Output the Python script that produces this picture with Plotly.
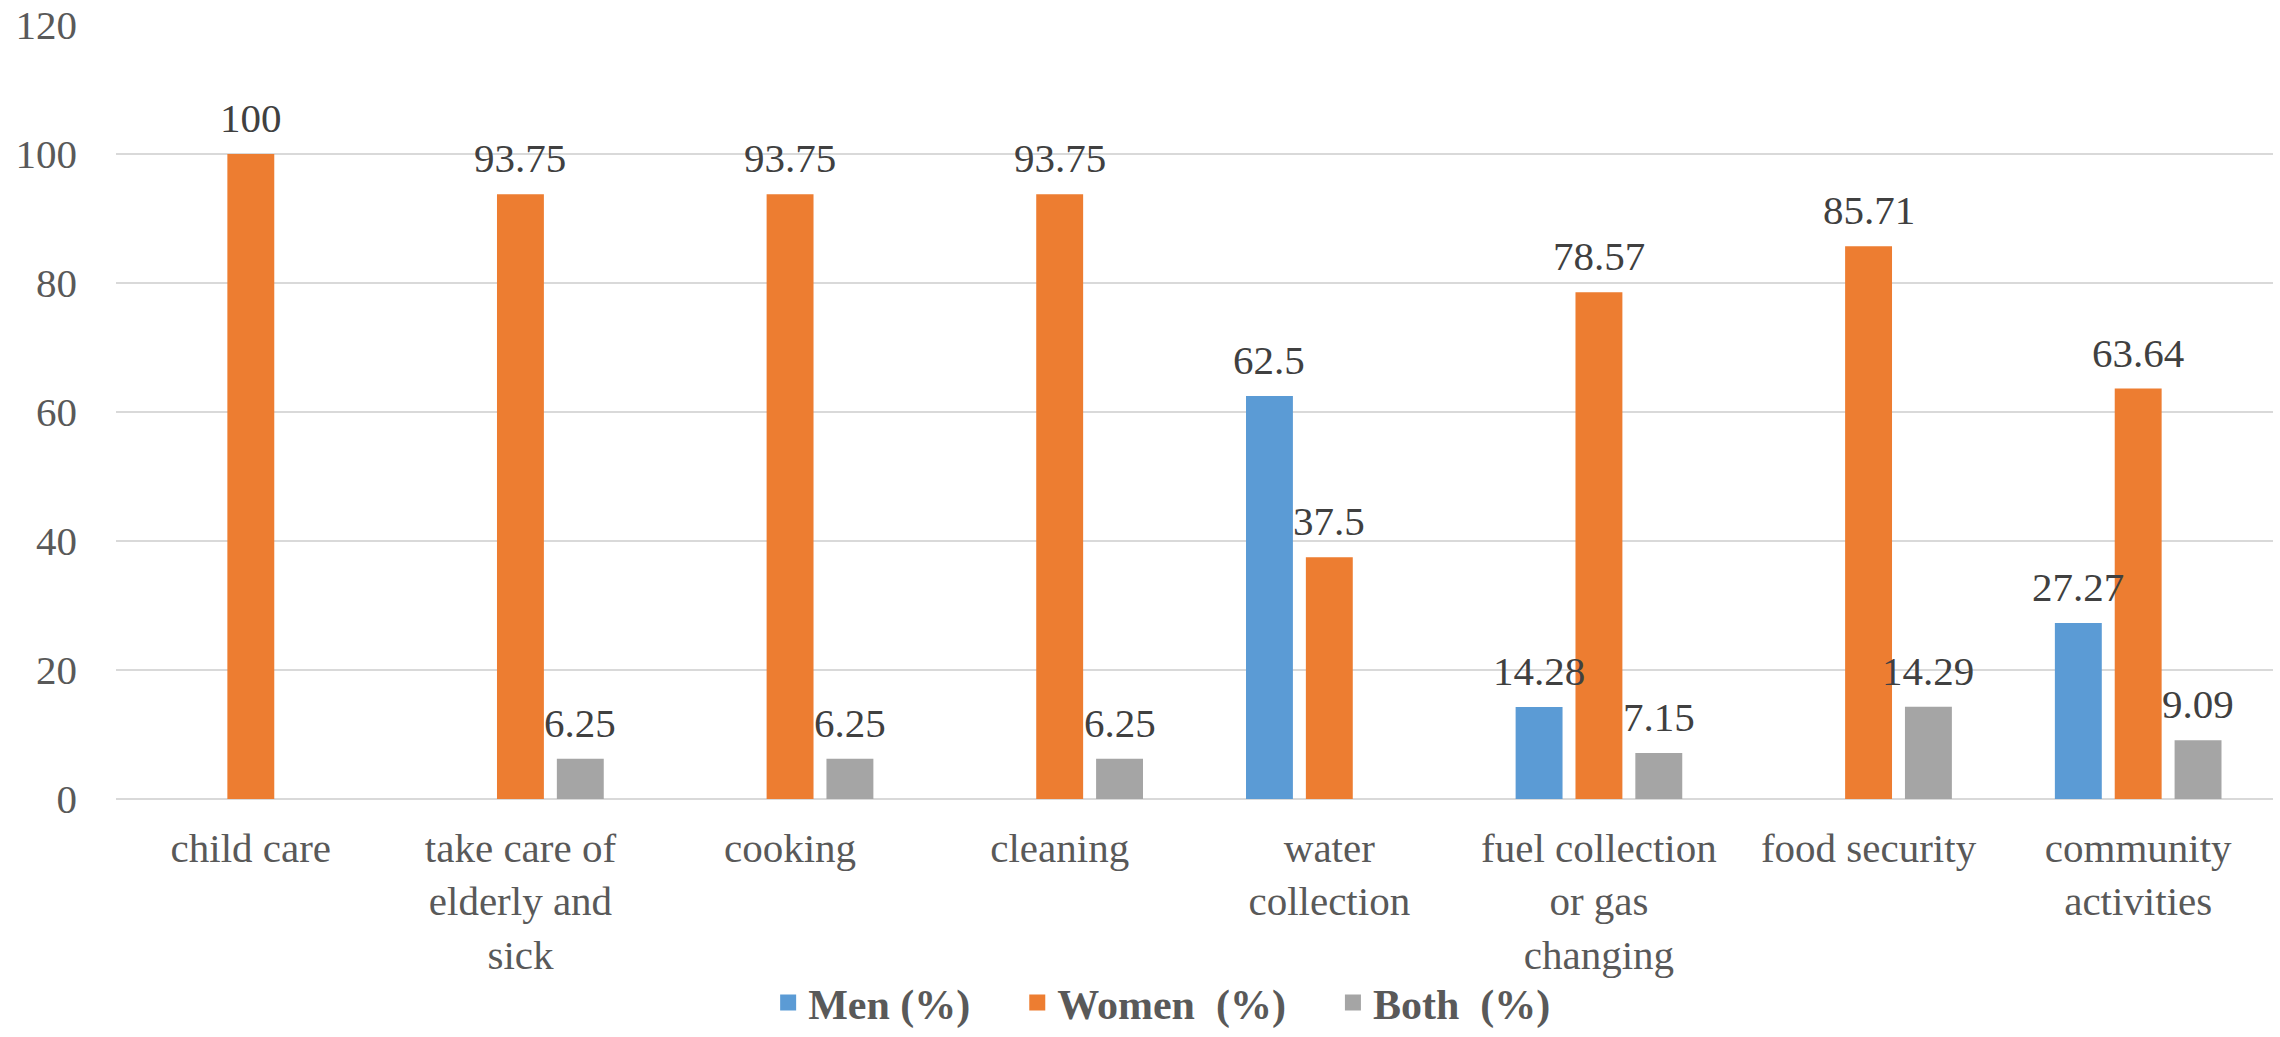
import plotly.graph_objects as go

categories = ["child care", "take care of<br>elderly and<br>sick", "cooking", "cleaning",
              "water<br>collection", "fuel collection<br>or gas<br>changing", "food security",
              "community<br>activities"]
men = [None, None, None, None, 62.5, 14.28, None, 27.27]
women = [100, 93.75, 93.75, 93.75, 37.5, 78.57, 85.71, 63.64]
both = [None, 6.25, 6.25, 6.25, None, 7.15, 14.29, 9.09]
series_names = ["Men (%)", "Women  (%)", "Both  (%)"]
colors = ["#5B9BD5", "#ED7D31", "#A5A5A5"]

FONT = "Liberation Serif"
BAR_W = 0.174
SLOT = 0.222
NBSP = "\u00a0"

def fmt(v):
    return "" if v is None else ("%g" % v)

idx = list(range(len(categories)))
fig = go.Figure()
annotations = []
for k, (name, vals, col) in enumerate(zip(series_names, [men, women, both], colors)):
    center = (k - 1) * SLOT
    fig.add_trace(go.Bar(
        x=idx, y=vals, name=name, marker_color=col, marker_line_width=0,
        width=BAR_W, offset=center - BAR_W / 2, showlegend=False,
    ))
    for i, v in zip(idx, vals):
        if v is None:
            continue
        annotations.append(dict(
            x=i + center, y=v, xref="x", yref="y", text=fmt(v), showarrow=False,
            yanchor="bottom", yshift=11,
            font=dict(family=FONT, size=41, color="#404040"),
        ))
    legend_name = name.replace("  ", NBSP + " ") + (NBSP * 4 if k < 2 else "")
    fig.add_trace(go.Scatter(
        x=[None], y=[None], mode="markers", name=legend_name,
        marker=dict(symbol="square", size=22, color=col), showlegend=True,
    ))

fig.update_layout(
    width=2280, height=1037,
    margin=dict(l=116, r=7, t=25, b=238, autoexpand=False),
    paper_bgcolor="white", plot_bgcolor="white",
    barmode="overlay",
    font=dict(family=FONT, size=41, color="#595959"),
    annotations=annotations,
    legend=dict(orientation="h", x=0.485, xanchor="center", y=-0.307, yanchor="bottom",
                font=dict(family=FONT, size=42, color="#595959", weight="bold"),
                tracegroupgap=0, borderwidth=0),
    yaxis=dict(range=[0, 120], dtick=20, showgrid=True, gridcolor="#D9D9D9", gridwidth=2,
               zeroline=True, zerolinecolor="#D9D9D9", zerolinewidth=2, showline=False,
               ticks="", ticklabelstandoff=38, automargin=False,
               tickfont=dict(family=FONT, size=41, color="#595959")),
    xaxis=dict(range=[-0.5, len(categories) - 0.5], tickmode="array", tickvals=idx,
               ticktext=categories, showgrid=False, zeroline=False, showline=False,
               ticks="", ticklabelstandoff=21, automargin=False,
               tickfont=dict(family=FONT, size=41, color="#595959")),
)

fig.write_html("out.html")
